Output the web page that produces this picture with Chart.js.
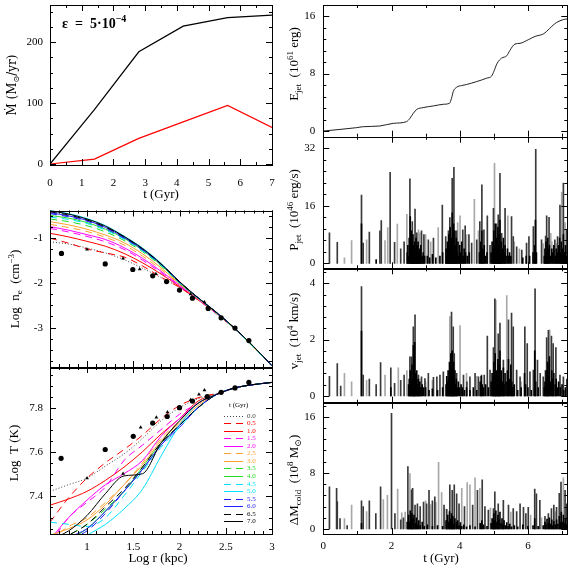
<!DOCTYPE html>
<html>
<head>
<meta charset="utf-8">
<script src="https://cdn.jsdelivr.net/npm/chart.js@4.4.1/dist/chart.umd.min.js"></script>
<style>
body { margin: 0; background: #fff; }
#wrap { position: relative; width: 572px; height: 572px; }
#wrap canvas { position: absolute; left: 0; top: 0; }
</style>
</head>
<body>
<div id="wrap"></div>
<script>
// ---- accretion rate panel ----
const mdotTime = [0, 1.4, 2.8, 4.2, 5.6, 7.0];
const mdotTotal = [0, 89, 184, 226, 240, 244];
const mdotCold = [0, 8, 42, 69, 96, 60];

// ---- profiles (log r in kpc) ----
const logR = [0.6, 0.8, 1.0, 1.2, 1.4, 1.6, 1.8, 2.0, 2.2, 2.4, 2.6, 2.8, 3.0];
const times = ['0.0', '0.5', '1.0', '1.5', '2.0', '2.5', '3.0', '3.5', '4.0', '4.5', '5.0', '5.5', '6.0', '6.5', '7.0'];
const neProfiles = [
    [-1.08, -1.13, -1.22, -1.33, -1.48, -1.67, -1.88, -2.10, -2.38, -2.69, -3.04, -3.43, -3.86],
    [-1.00, -1.11, -1.24, -1.33, -1.42, -1.62, -1.87, -2.10, -2.38, -2.69, -3.04, -3.43, -3.86],
    [-0.89, -0.97, -1.07, -1.18, -1.34, -1.55, -1.80, -2.08, -2.37, -2.68, -3.03, -3.43, -3.86],
    [-0.78, -0.86, -0.96, -1.08, -1.25, -1.49, -1.77, -2.07, -2.37, -2.68, -3.03, -3.43, -3.86],
    [-0.74, -0.82, -0.92, -1.03, -1.21, -1.45, -1.74, -2.05, -2.36, -2.68, -3.03, -3.43, -3.86],
    [-0.69, -0.76, -0.85, -0.98, -1.15, -1.40, -1.70, -2.03, -2.35, -2.67, -3.03, -3.43, -3.86],
    [-0.63, -0.70, -0.80, -0.93, -1.10, -1.35, -1.66, -2.02, -2.35, -2.67, -3.03, -3.43, -3.86],
    [-0.57, -0.63, -0.72, -0.86, -1.05, -1.30, -1.62, -2.00, -2.34, -2.67, -3.03, -3.43, -3.86],
    [-0.49, -0.55, -0.65, -0.80, -1.00, -1.27, -1.60, -2.00, -2.34, -2.67, -3.03, -3.43, -3.86],
    [-0.53, -0.58, -0.67, -0.82, -1.02, -1.28, -1.60, -2.00, -2.34, -2.67, -3.03, -3.43, -3.86],
    [-0.38, -0.45, -0.56, -0.72, -0.95, -1.22, -1.56, -1.98, -2.33, -2.66, -3.02, -3.42, -3.85],
    [-0.45, -0.52, -0.62, -0.78, -1.00, -1.26, -1.58, -1.98, -2.33, -2.66, -3.02, -3.42, -3.85],
    [-0.43, -0.50, -0.60, -0.76, -0.98, -1.25, -1.58, -1.98, -2.33, -2.66, -3.02, -3.42, -3.85],
    [-0.41, -0.48, -0.59, -0.75, -0.97, -1.24, -1.58, -1.98, -2.33, -2.66, -3.02, -3.42, -3.85],
    [-0.38, -0.46, -0.57, -0.73, -0.96, -1.23, -1.57, -1.97, -2.33, -2.66, -3.02, -3.42, -3.85]
];
const tProfiles = [
    [7.42, 7.45, 7.48, 7.535, 7.59, 7.66, 7.74, 7.80, 7.84, 7.865, 7.89, 7.905, 7.915],
    [7.28, 7.39, 7.48, 7.55, 7.61, 7.675, 7.75, 7.81, 7.845, 7.865, 7.89, 7.905, 7.915],
    [7.357, 7.385, 7.42, 7.47, 7.53, 7.60, 7.68, 7.75, 7.83, 7.86, 7.89, 7.905, 7.915],
    [7.18, 7.30, 7.37, 7.44, 7.56, 7.63, 7.70, 7.77, 7.82, 7.86, 7.89, 7.905, 7.915],
    [7.20, 7.30, 7.38, 7.45, 7.50, 7.56, 7.67, 7.75, 7.82, 7.86, 7.89, 7.905, 7.915],
    [7.20, 7.26, 7.30, 7.37, 7.45, 7.55, 7.66, 7.74, 7.82, 7.86, 7.89, 7.905, 7.915],
    [7.22, 7.25, 7.29, 7.36, 7.45, 7.54, 7.65, 7.73, 7.81, 7.86, 7.89, 7.905, 7.915],
    [7.18, 7.22, 7.27, 7.34, 7.42, 7.52, 7.63, 7.72, 7.80, 7.86, 7.89, 7.905, 7.915],
    [7.15, 7.20, 7.25, 7.33, 7.42, 7.53, 7.64, 7.72, 7.80, 7.86, 7.89, 7.905, 7.915],
    [7.28, 7.27, 7.26, 7.30, 7.40, 7.51, 7.62, 7.71, 7.80, 7.86, 7.89, 7.905, 7.915],
    [7.10, 7.16, 7.22, 7.27, 7.34, 7.43, 7.58, 7.72, 7.82, 7.86, 7.89, 7.905, 7.915],
    [7.15, 7.20, 7.24, 7.32, 7.42, 7.52, 7.63, 7.71, 7.80, 7.86, 7.89, 7.905, 7.915],
    [7.16, 7.21, 7.25, 7.33, 7.42, 7.52, 7.63, 7.72, 7.80, 7.86, 7.89, 7.905, 7.915],
    [7.17, 7.22, 7.27, 7.35, 7.43, 7.53, 7.64, 7.72, 7.80, 7.86, 7.89, 7.905, 7.915],
    [7.20, 7.24, 7.31, 7.41, 7.49, 7.50, 7.64, 7.74, 7.82, 7.86, 7.89, 7.905, 7.915]
];
// observed points (circles and triangles)
const neObsR = [0.724, 1.197, 1.495, 1.71, 1.86, 2.0, 2.14, 2.31, 2.45, 2.6, 2.75];
const neObs = [-1.34, -1.575, -1.70, -1.84, -1.97, -2.16, -2.34, -2.57, -2.78, -3.01, -3.29];
const neTriR = [1.0, 1.39, 1.57, 1.745, 2.12, 2.27];
const neTri = [-1.25, -1.45, -1.69, -1.80, -2.25, -2.43];
const tObsR = [0.72, 1.197, 1.5, 1.71, 1.867, 2.0, 2.14, 2.30, 2.45, 2.6, 2.75];
const tObs = [7.57, 7.61, 7.67, 7.73, 7.76, 7.80, 7.83, 7.85, 7.87, 7.89, 7.915];
const tTriR = [1.0, 1.39, 1.58, 1.75, 1.87, 2.12, 2.21, 2.27];
const tTri = [7.48, 7.50, 7.71, 7.756, 7.78, 7.835, 7.86, 7.88];

// ---- jet history (t in Gyr) ----
const ejetTime = [0, 0.98, 1.17, 1.66, 2.05, 2.44, 2.54, 2.64, 2.74, 2.93, 3.23, 3.52, 3.70, 3.76, 3.81, 3.91, 4.06, 4.20, 4.50, 4.79, 4.94, 5.00, 5.10, 5.23, 5.38, 5.47, 5.62, 5.77, 6.01, 6.21, 6.45, 6.55, 6.70, 6.84, 7.04, 7.16];
const ejetVal = [0, 0.47, 0.6, 0.7, 1.07, 1.3, 1.77, 2.47, 3.0, 3.26, 3.49, 3.72, 3.86, 4.56, 5.49, 6.09, 6.33, 6.47, 6.88, 7.35, 7.67, 8.28, 9.44, 10.14, 10.47, 11.2, 12.1, 12.2, 12.7, 13.16, 13.5, 13.86, 14.56, 15.1, 15.5, 15.6];

const pjetLight = [[0.62,1.5],[0.83,6.3],[1.27,6.5],[1.81,6.3],[1.89,9.9],[2.17,10.9],[2.45,13.6],[2.79,9.3],[2.83,8.5],[3.0,8],[3.15,6],[3.37,9.9],[3.94,11.3],[4.01,13.2],[4.2,8],[4.43,17.8],[4.55,9],[5.02,27.8],[5.05,10],[5.41,13.2],[5.6,6],[5.75,4],[6.45,5.5],[6.67,8.3],[6.7,6],[6.85,5.5],[6.99,19.8],[7.09,11.3]];
const pjetDark = [[0.18,8.5],[0.41,5.8],[1.12,19],[1.17,5.6],[1.35,8.7],[1.66,9],[1.70,11.9],[1.96,25.3],[2.09,5.8],[2.27,4],[2.37,6],[2.54,23.5],[2.61,11.6],[2.69,15.1],[2.74,8.5],[2.88,9],[2.95,8],[3.08,6.5],[3.23,7],[3.49,16.2],[3.59,7.4],[3.67,9],[3.71,12.7],[3.78,23.6],[3.83,26.7],[3.91,9],[4.09,9.3],[4.16,10.4],[4.27,8],[4.35,5.6],[4.50,6.5],[4.59,11.6],[4.65,21.8],[4.71,9.3],[4.81,13.2],[4.89,5],[4.99,15.3],[5.08,11],[5.13,13.5],[5.18,25],[5.23,8.3],[5.33,15.3],[5.52,13],[5.57,7.4],[5.67,4.6],[5.82,3.7],[5.96,5.6],[6.03,7.4],[6.16,10.2],[6.23,31.7],[6.40,6.5],[6.52,7.6],[6.55,13.2],[6.62,12.8],[6.79,6.5],[6.87,7.4],[6.94,16.2],[7.04,22.3],[7.14,9.3]];
const pjetBase = [[1.12,11],[1.55,1],[2.46,3],[2.48,5],[2.5,2],[2.52,7],[2.55,13],[2.57,4],[2.58,9],[2.6,6],[2.62,3],[2.63,8],[2.65,5],[2.66,2],[2.68,6],[2.7,4],[2.72,7],[2.73,2],[2.75,5],[2.77,3],[2.78,6],[2.8,2],[2.82,4],[2.84,3],[2.86,5],[2.9,2],[2.93,3],[2.97,2],[3.05,2],[3.12,1.5],[3.2,2.5],[3.3,1.5],[3.42,2],[3.5,3],[3.6,4],[3.62,2],[3.64,6],[3.66,3],[3.68,8],[3.7,5],[3.72,10],[3.74,4],[3.76,7],[3.78,14],[3.8,6],[3.82,11],[3.84,3],[3.86,9],[3.88,5],[3.9,7],[3.92,3],[3.95,6],[3.97,2],[4.0,5],[4.03,3],[4.06,6],[4.1,2],[4.13,4],[4.17,3],[4.22,2],[4.28,3],[4.58,3],[4.62,6],[4.65,9],[4.68,4],[4.72,5],[4.76,2],[4.8,3],[4.92,3],[4.95,6],[4.97,4],[5.0,9],[5.02,5],[5.04,11],[5.06,3],[5.08,7],[5.1,4],[5.12,10],[5.14,5],[5.16,8],[5.18,12],[5.2,3],[5.22,6],[5.25,4],[5.28,7],[5.3,3],[5.33,5],[5.36,2],[5.4,4],[5.43,2],[5.46,3],[5.5,2],[5.85,1.5],[5.95,2],[6.05,2],[6.15,3],[6.2,5],[6.22,12],[6.25,3],[6.48,2],[6.5,4],[6.53,6],[6.55,3],[6.58,7],[6.6,4],[6.63,5],[6.66,2],[6.7,4],[6.73,3],[6.76,5],[6.8,2],[6.83,4],[6.86,3],[6.9,5],[6.93,7],[6.95,3],[6.98,6],[7.01,4],[7.04,8],[7.07,3],[7.1,5],[7.13,2]];

const vjetLight = [[0.62,0.8],[0.83,0.5],[1.27,0.55],[1.81,0.74],[2.2,1.0],[2.45,0.9],[2.83,0.6],[3.0,0.5],[3.2,0.55],[3.71,2.82],[4.01,2.5],[4.2,0.8],[4.5,0.7],[5.06,3.39],[5.38,3.56],[5.8,0.5],[6.5,0.9],[6.64,2.35]];
const vjetDark = [[0.18,0.7],[0.41,1.15],[0.51,0.35],[1.12,3.88],[1.17,0.74],[1.35,0.6],[1.55,0.4],[1.68,1.18],[1.98,1.0],[2.09,0.45],[2.27,0.55],[2.37,0.74],[2.54,1.39],[2.59,1.39],[2.64,2.45],[2.69,2.88],[2.79,0.74],[2.88,0.68],[2.98,0.62],[3.08,0.8],[3.23,0.66],[3.33,0.68],[3.42,0.74],[3.52,0.86],[3.76,2.98],[3.81,2.45],[3.84,1.5],[3.91,0.8],[4.11,0.74],[4.21,0.5],[4.3,0.68],[4.45,0.8],[4.55,0.68],[4.64,0.74],[4.72,0.74],[4.81,2.12],[4.89,0.92],[4.99,1.72],[5.03,3.45],[5.13,2.2],[5.18,2.59],[5.28,1.27],[5.43,2.7],[5.52,2.94],[5.57,2.45],[5.67,0.92],[5.77,0.68],[5.91,2.45],[5.98,1.86],[6.06,0.86],[6.16,0.92],[6.21,3.8],[6.28,1.27],[6.36,0.8],[6.45,0.68],[6.55,2.07],[6.6,2.33],[6.69,2.12],[6.74,1.86],[6.82,1.72],[6.94,0.74],[7.04,0.68],[7.14,0.6]];
const vjetBase = [[1.12,2.3],[1.98,0.3],[2.5,0.4],[2.52,0.6],[2.55,0.9],[2.57,0.5],[2.6,1.1],[2.62,0.6],[2.64,1.8],[2.66,0.7],[2.68,1.9],[2.7,0.8],[2.72,0.5],[2.74,0.9],[2.76,0.4],[2.78,0.6],[2.8,0.3],[2.83,0.5],[2.86,0.3],[2.9,0.4],[2.94,0.3],[3.0,0.3],[3.1,0.2],[3.2,0.25],[3.35,0.2],[3.5,0.3],[3.6,0.4],[3.62,0.7],[3.64,0.5],[3.66,0.9],[3.68,0.6],[3.7,1.2],[3.72,0.7],[3.74,1.5],[3.76,1.0],[3.78,1.6],[3.8,0.8],[3.82,1.2],[3.84,0.5],[3.86,0.9],[3.88,0.4],[3.9,0.6],[3.93,0.3],[3.96,0.5],[4.0,0.3],[4.04,0.4],[4.08,0.3],[4.14,0.2],[4.2,0.3],[4.3,0.2],[4.4,0.3],[4.5,0.2],[4.6,0.5],[4.63,0.7],[4.66,0.4],[4.7,0.3],[4.76,0.4],[4.84,0.3],[4.92,0.5],[4.95,0.8],[4.97,0.6],[5.0,1.2],[5.02,0.7],[5.04,1.5],[5.06,0.5],[5.08,0.9],[5.1,0.6],[5.12,1.3],[5.14,0.8],[5.16,1.1],[5.18,1.6],[5.2,0.6],[5.22,0.9],[5.25,0.5],[5.28,1.0],[5.3,0.4],[5.33,0.8],[5.36,0.5],[5.4,0.9],[5.43,1.3],[5.46,0.6],[5.5,1.1],[5.53,0.5],[5.56,0.3],[5.6,0.4],[5.7,0.2],[5.8,0.3],[5.9,0.8],[5.93,0.4],[6.0,0.3],[6.1,0.2],[6.2,1.6],[6.23,0.5],[6.3,0.3],[6.48,0.3],[6.5,0.5],[6.53,0.9],[6.55,0.6],[6.58,1.2],[6.6,0.7],[6.63,1.4],[6.66,0.5],[6.7,0.9],[6.73,0.6],[6.76,0.8],[6.8,0.4],[6.83,0.6],[6.86,0.3],[6.9,0.5],[6.95,0.3],[7.0,0.4],[7.05,0.2],[7.1,0.3]];

const dmLight = [[0.62,1.5],[0.83,3.4],[1.27,2.5],[1.76,4.2],[1.88,4.8],[2.18,5.7],[2.3,2.3],[2.4,2.4],[2.54,7.9],[3.0,4.0],[3.15,3.5],[3.3,3.8],[3.38,9.5],[3.47,5.2],[3.56,2.9],[4.06,5.8],[4.22,6.6],[4.3,6.3],[4.45,7.3],[4.59,5.8],[4.9,3.0],[5.5,2.4],[6.08,2.0],[6.4,1.6],[6.8,2.5],[7.04,7.3]];
const dmDark = [[0.18,6.0],[0.39,5.8],[0.41,3.9],[0.49,1.5],[0.7,0.5],[1.12,4.0],[1.17,3.2],[1.35,4.0],[1.54,2.2],[1.68,6.0],[2.0,16.5],[2.1,2.2],[2.27,1.3],[2.35,1.6],[2.48,8.9],[2.59,5.6],[2.62,5.8],[2.69,3.4],[2.76,3.6],[2.84,3.2],[2.94,3.84],[3.03,3.6],[3.1,5.5],[3.2,4.0],[3.27,4.6],[3.54,3.4],[3.62,2.8],[3.71,6.3],[3.78,5.5],[3.84,6.3],[3.91,5.0],[3.98,3.6],[4.14,3.2],[4.38,3.4],[4.52,5.5],[4.66,7.0],[4.74,3.2],[4.84,2.7],[4.99,2.9],[5.03,5.3],[5.13,3.6],[5.28,4.1],[5.43,3.4],[5.57,2.9],[5.67,2.5],[5.77,3.6],[5.87,3.1],[5.94,2.2],[6.01,3.1],[6.2,5.7],[6.25,5.0],[6.35,4.1],[6.5,1.8],[6.6,2.2],[6.69,2.9],[6.76,3.4],[6.84,3.1],[6.92,5.1],[6.97,6.7],[7.09,5.5],[7.14,3.6]];
const dmBase = [[1.12,0.8],[2.46,1.0],[2.5,2.0],[2.52,1.0],[2.55,2.6],[2.57,1.2],[2.6,2.2],[2.63,1.5],[2.66,2.0],[2.7,0.8],[2.73,1.6],[2.76,0.6],[2.8,1.2],[2.84,0.5],[2.9,1.0],[2.96,0.4],[3.05,0.6],[3.2,0.4],[3.35,0.5],[3.5,0.4],[3.6,1.2],[3.62,0.6],[3.65,2.0],[3.68,1.0],[3.7,2.5],[3.73,1.4],[3.76,2.2],[3.78,1.0],[3.8,1.8],[3.83,0.7],[3.86,1.5],[3.9,0.9],[3.94,1.2],[3.98,0.5],[4.02,0.9],[4.06,0.4],[4.12,0.6],[4.2,0.3],[4.3,0.5],[4.45,0.3],[4.6,0.8],[4.65,1.2],[4.7,0.6],[4.8,0.4],[4.92,0.8],[4.95,1.5],[4.98,0.9],[5.0,2.2],[5.03,1.2],[5.06,2.6],[5.09,1.0],[5.12,2.0],[5.15,1.3],[5.18,2.4],[5.21,0.8],[5.24,1.5],[5.27,0.6],[5.3,1.2],[5.34,0.5],[5.38,0.9],[5.42,0.4],[5.47,0.7],[5.52,0.3],[5.6,0.5],[5.7,0.3],[5.85,0.6],[6.0,0.4],[6.15,0.5],[6.2,1.5],[6.3,0.4],[6.45,0.5],[6.5,1.0],[6.53,0.6],[6.56,1.4],[6.6,0.8],[6.63,1.6],[6.66,0.7],[6.7,1.3],[6.73,0.5],[6.76,1.1],[6.8,0.6],[6.84,1.3],[6.88,0.7],[6.92,1.8],[6.95,0.9],[6.98,2.4],[7.01,1.0],[7.04,2.0],[7.07,0.8],[7.1,1.5],[7.13,0.6]];

// ---- tick labels ----
const mdotXTicks = [0, 1, 2, 3, 4, 5, 6, 7];
const mdotYTicks = [0, 100, 200];
const logRTicks = [1, 1.5, 2, 2.5, 3];
const neTicks = [-1, -2, -3];
const tempTicks = [7.4, 7.6, 7.8];
const timeTicks = [0, 2, 4, 6];
const ejetTicks = [0, 8, 16];
const pjetTicks = [0, 16, 32];
const vjetTicks = [0, 2, 4];
const dmTicks = [0, 8, 16];

const W = 572;
const AXW = 45;   // room kept for y tick labels
const AXH = 30;   // room kept for x tick labels
const serif = '"Liberation Serif", "DejaVu Serif", serif';
const lineColors = ['#444', '#ff0000', '#ff0000', '#ff00ff', '#ff00ff', '#ffa030', '#ffa030', '#22dd22', '#22dd22', '#00e0ff', '#00e0ff', '#2020ff', '#2020ff', '#000', '#000'];
const lineDash = [[1, 2], [7, 5], [], [7, 5], [], [7, 5], [], [7, 5], [], [7, 5], [], [7, 5], [], [7, 5], []];

function steps(a, b, s) {
    const out = [];
    for (let v = a; v <= b + 1e-9; v += s) out.push(+v.toFixed(4));
    return out;
}

function drawRich(ctx, t) {
    const size = t.size || 13;
    const fam = t.family || serif;
    ctx.save();
    ctx.translate(t.x, t.y);
    if (t.rot) ctx.rotate(t.rot);
    ctx.fillStyle = t.color || '#000';
    ctx.textBaseline = 'middle';
    ctx.textAlign = 'left';
    const segs = t.parts.map(p => {
        const s = p[1] ? Math.round(size * 0.7) : size;
        const font = (t.weight ? t.weight + ' ' : '') + s + 'px ' + fam;
        ctx.font = font;
        return { txt: p[0], font: font, w: ctx.measureText(p[0]).width, dy: p[1] === 1 ? -size * 0.35 : (p[1] === -1 ? size * 0.3 : 0) };
    });
    const total = segs.reduce((a, s) => a + s.w, 0);
    let cx = t.align === 'left' ? 0 : -total / 2;
    segs.forEach(s => { ctx.font = s.font; ctx.fillText(s.txt, cx, s.dy); cx += s.w; });
    ctx.restore();
}

// box with inward ticks on all sides, titles and the little legend
function makeFrame(cfg) {
    return {
        id: 'frame',
        afterDraw(chart) {
            const ctx = chart.ctx, a = chart.chartArea, xs = chart.scales.x, ys = chart.scales.y;
            ctx.save();
            ctx.strokeStyle = '#000';
            ctx.lineWidth = 1;
            ctx.beginPath();
            const xt = (vals, len) => vals.forEach(v => {
                const p = Math.round(xs.getPixelForValue(v)) + 0.5;
                ctx.moveTo(p, a.bottom); ctx.lineTo(p, a.bottom - len);
                ctx.moveTo(p, a.top); ctx.lineTo(p, a.top + len);
            });
            const yt = (vals, len) => vals.forEach(v => {
                const p = Math.round(ys.getPixelForValue(v)) + 0.5;
                ctx.moveTo(a.left, p); ctx.lineTo(a.left + len, p);
                ctx.moveTo(a.right, p); ctx.lineTo(a.right - len, p);
            });
            xt(cfg.xMinor, 3); xt(cfg.xMajor, 6);
            yt(cfg.yMinor, 3); yt(cfg.yMajor, 6);
            ctx.stroke();
            ctx.strokeRect(Math.round(a.left) + 0.5, Math.round(a.top) + 0.5, Math.round(a.right - a.left), Math.round(a.bottom - a.top));
            (cfg.texts || []).forEach(t => drawRich(ctx, t));
            if (cfg.legend) {
                drawRich(ctx, { parts: [['t (Gyr)', 0]], x: 229, y: 405, size: 7, align: 'left' });
                times.forEach((lab, i) => {
                    const y = Math.round(415.5 + i * 7.57) + 0.5;
                    ctx.beginPath();
                    ctx.strokeStyle = lineColors[i];
                    ctx.setLineDash(lineDash[i]);
                    ctx.moveTo(224, y); ctx.lineTo(243, y);
                    ctx.stroke();
                    ctx.setLineDash([]);
                    drawRich(ctx, { parts: [[lab, 0]], x: 247, y: y, size: 7, align: 'left', color: lineColors[i] });
                });
            }
            ctx.restore();
        }
    };
}

function makePanel(box, cfg) {
    const cv = document.createElement('canvas');
    cv.width = W; cv.height = W;
    document.getElementById('wrap').appendChild(cv);
    const xh = cfg.xLabels ? AXH : 0;
    const fit = s => {
        if (s.isHorizontal()) s.height = xh; else s.width = AXW;
        s.paddingLeft = s.paddingRight = s.paddingTop = s.paddingBottom = 0;
    };
    const tickFont = { family: serif, size: 11 };
    return new Chart(cv, {
        type: cfg.type || 'line',
        data: { datasets: cfg.datasets },
        options: {
            responsive: false,
            animation: false,
            devicePixelRatio: 1,
            layout: { autoPadding: false, padding: { left: box.l - AXW, top: box.t, right: W - box.r, bottom: W - box.b - xh } },
            plugins: { legend: { display: false }, tooltip: { enabled: false } },
            scales: {
                x: {
                    type: 'linear', min: cfg.x[0], max: cfg.x[1], offset: false,
                    grid: { display: false, drawTicks: false }, border: { display: false },
                    ticks: { display: !!cfg.xLabels, padding: cfg.xPad || 7, font: tickFont, color: '#000', autoSkip: false, maxRotation: 0, callback: v => String(v) },
                    afterBuildTicks: s => { s.ticks = cfg.xMajor.map(v => ({ value: v })); },
                    afterFit: fit
                },
                y: {
                    type: 'linear', min: cfg.y[0], max: cfg.y[1], stacked: false,
                    grid: { display: false, drawTicks: false }, border: { display: false },
                    ticks: { padding: cfg.yPad || 7, font: tickFont, color: '#000', autoSkip: false, callback: v => String(v) },
                    afterBuildTicks: s => { s.ticks = cfg.yMajor.map(v => ({ value: v })); },
                    afterFit: fit
                }
            }
        },
        plugins: [makeFrame(cfg)]
    });
}

const xy = (xs, ys) => xs.map((x, i) => ({ x: x, y: ys[i] }));

function profileSets(profiles, obsR, obs, triR, tri) {
    const sets = profiles.map((p, i) => ({
        data: xy(logR, p), borderColor: lineColors[i], borderDash: lineDash[i], borderWidth: 1,
        pointRadius: 0, cubicInterpolationMode: 'monotone', order: 100 - i
    }));
    sets.push({ data: xy(obsR, obs), showLine: false, pointStyle: 'circle', pointRadius: 2.6, pointBackgroundColor: '#000', pointBorderWidth: 0, order: 0 });
    sets.push({ data: xy(triR, tri), showLine: false, pointStyle: 'triangle', pointRadius: 2.2, pointBackgroundColor: '#000', pointBorderWidth: 0, order: 0 });
    return sets;
}

function spikeSet(light, dark, base) {
    const all = light.concat(dark, base);
    const cols = light.map(() => '#a8a8a8').concat(dark.map(() => '#3a3a3a'), base.map(() => '#000'));
    return [{ data: all.map(p => ({ x: p[0], y: p[1] })), backgroundColor: cols, borderWidth: 0, barThickness: 1 }];
}

const rightX = [0, 7.155];
const rightMinor = [1, 3, 5, 7];
const rot = -Math.PI / 2;

// top-left: accretion rate
makePanel({ l: 50, r: 272, t: 5, b: 165 }, {
    x: [0, 7], y: [-1.6, 260.7],
    xMajor: mdotXTicks, xMinor: steps(0, 7, 0.5), xLabels: true, xPad: 12,
    yMajor: mdotYTicks, yMinor: steps(0, 250, 25),
    datasets: [
        { data: xy(mdotTime, mdotTotal), borderColor: '#000', borderWidth: 1.2, pointRadius: 0 },
        { data: xy(mdotTime, mdotCold), borderColor: '#ff0000', borderWidth: 1.2, pointRadius: 0 }
    ],
    texts: [
        { parts: [['Ṁ (M', 0], ['⊙', -1], ['/yr)', 0]], x: 13, y: 85, rot: rot, size: 12, family: '"DejaVu Serif", serif' },
        { parts: [['t (Gyr)', 0]], x: 161, y: 195 },
        { parts: [['ε  =  5·10', 0], ['−4', 1]], x: 62, y: 24, size: 14, weight: 'bold', align: 'left' }
    ]
});

// density profiles
makePanel({ l: 50, r: 272, t: 210.5, b: 367 }, {
    x: [0.6, 3.0], y: [-3.88, -0.38],
    xMajor: logRTicks, xMinor: steps(0.6, 3.0, 0.1),
    yMajor: neTicks, yMinor: steps(-3.75, -0.5, 0.25),
    datasets: profileSets(neProfiles, neObsR, neObs, neTriR, neTri),
    texts: [{ parts: [['Log  n', 0], ['e', -1], ['  (cm', 0], ['−3', 1], [')', 0]], x: 16, y: 289, rot: rot }]
});

// temperature profiles
makePanel({ l: 50, r: 272, t: 367, b: 534 }, {
    x: [0.6, 3.0], y: [7.226, 7.985],
    xMajor: logRTicks, xMinor: steps(0.6, 3.0, 0.1), xLabels: true, xPad: 7,
    yMajor: tempTicks, yMinor: steps(7.25, 7.95, 0.05),
    datasets: profileSets(tProfiles, tObsR, tObs, tTriR, tTri),
    legend: true,
    texts: [
        { parts: [['Log  T (K)', 0]], x: 15, y: 453, rot: rot },
        { parts: [['Log r (kpc)', 0]], x: 158, y: 559 }
    ]
});

// jet energy
makePanel({ l: 323.3, r: 567.3, t: 5, b: 136.7 }, {
    x: rightX, y: [-0.79, 17.53],
    xMajor: timeTicks, xMinor: rightMinor, yPad: 8,
    yMajor: ejetTicks, yMinor: steps(1.6, 16, 1.6),
    datasets: [{ data: xy(ejetTime, ejetVal), borderColor: '#222', borderWidth: 1, pointRadius: 0, cubicInterpolationMode: 'monotone' }],
    texts: [{ parts: [['E', 0], ['jet', -1], ['  (10', 0], ['61', 1], [' erg)', 0]], x: 295, y: 64, rot: rot }]
});

// jet power
makePanel({ l: 323.3, r: 567.3, t: 136.7, b: 268.3 }, {
    type: 'bar', x: rightX, y: [-1.39, 35.2],
    xMajor: timeTicks, xMinor: rightMinor, yPad: 8,
    yMajor: pjetTicks, yMinor: steps(3.2, 32, 3.2),
    datasets: spikeSet(pjetLight, pjetDark, pjetBase),
    texts: [{ parts: [['P', 0], ['jet', -1], ['  (10', 0], ['46', 1], [' erg/s)', 0]], x: 295, y: 210, rot: rot }]
});

// jet velocity
makePanel({ l: 323.3, r: 567.3, t: 268.3, b: 402.7 }, {
    type: 'bar', x: rightX, y: [-0.24, 4.53],
    xMajor: timeTicks, xMinor: rightMinor, yPad: 8,
    yMajor: vjetTicks, yMinor: steps(0.4, 4.4, 0.4),
    datasets: spikeSet(vjetLight, vjetDark, vjetBase),
    texts: [{ parts: [['v', 0], ['jet', -1], ['  (10', 0], ['4', 1], [' km/s)', 0]], x: 295, y: 331, rot: rot }]
});

// cold gas accreted
makePanel({ l: 323.3, r: 567.3, t: 402.7, b: 534 }, {
    type: 'bar', x: rightX, y: [-0.71, 18.0],
    xMajor: timeTicks, xMinor: rightMinor, xLabels: true, xPad: 6, yPad: 8,
    yMajor: dmTicks, yMinor: steps(1.6, 17.6, 1.6),
    datasets: spikeSet(dmLight, dmDark, dmBase),
    texts: [
        { parts: [['ΔM', 0], ['cold', -1], ['  (10', 0], ['8', 1], [' M', 0], ['⊙', -1], [')', 0]], x: 295, y: 480, rot: rot },
        { parts: [['t (Gyr)', 0]], x: 441, y: 559 }
    ]
});
</script>
</body>
</html>
